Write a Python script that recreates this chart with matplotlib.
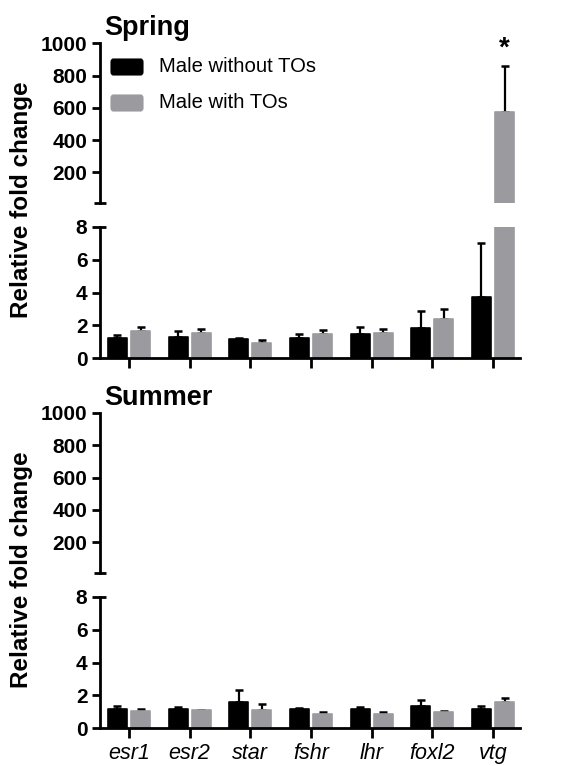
import matplotlib
matplotlib.use("Agg")
import matplotlib.pyplot as plt
from matplotlib.patches import FancyBboxPatch
import numpy as np

plt.rcParams['font.family'] = ['Liberation Sans', 'DejaVu Sans']

genes = ["esr1", "esr2", "star", "fshr", "lhr", "foxl2", "vtg"]
series_names = ["Male without TOs", "Male with TOs"]

spring_without = [1.2, 1.3, 1.14, 1.2, 1.46, 1.85, 3.74]
spring_without_err = [0.2, 0.35, 0.08, 0.25, 0.44, 1.02, 3.29]
spring_with = [1.66, 1.55, 0.93, 1.45, 1.5, 2.36, 572]
spring_with_err = [0.24, 0.2, 0.17, 0.25, 0.27, 0.64, 287]

summer_without = [1.18, 1.14, 1.59, 1.18, 1.15, 1.34, 1.18]
summer_without_err = [0.16, 0.14, 0.71, 0.05, 0.13, 0.36, 0.17]
summer_with = [1.04, 1.08, 1.08, 0.84, 0.84, 0.98, 1.59]
summer_with_err = [0.12, 0.03, 0.37, 0.16, 0.16, 0.07, 0.24]

upper_ticks = [200, 400, 600, 800, 1000]
lower_ticks = [0, 2, 4, 6, 8]

BLACK = "#000000"
GRAY = "#9b9b9f"
W, H = 581, 766
fig = plt.figure(figsize=(W / 100, H / 100), dpi=100)

def fx(px):
    return px / W

def fy(py):
    return 1 - py / H

left, right = 100, 520
x = np.arange(len(genes))
bw = 0.313
off = 0.19
LW = 2.0

def draw_bars(ax, a, ae, b, be, ymin):
    a = np.asarray(a, float)
    b = np.asarray(b, float)
    ae = np.asarray(ae, float)
    be = np.asarray(be, float)
    # only draw what reaches into this axis range
    a_m = np.where(a + ae > ymin, a, np.nan)
    b_m = np.where(b + be > ymin, b, np.nan)
    kw = dict(width=bw, linewidth=1.2, joinstyle='round', zorder=2)
    ax.bar(x - off, a_m, color=BLACK, edgecolor=BLACK, **kw)
    ax.bar(x + off, b_m, color=GRAY, edgecolor=GRAY, **kw)
    ek = dict(fmt='none', ecolor='black', elinewidth=1.6, capsize=3.2, capthick=1.8, zorder=1)
    ax.errorbar(x - off, a_m, yerr=[np.zeros(len(a)), ae], **ek)
    ax.errorbar(x + off, b_m, yerr=[np.zeros(len(b)), be], **ek)

def style(ax):
    for s in ['top', 'right']:
        ax.spines[s].set_visible(False)
    ax.spines['left'].set_linewidth(LW)
    ax.spines['bottom'].set_linewidth(LW)
    ax.tick_params(axis='y', direction='out', length=6, width=LW, labelsize=15, pad=3)
    for t in ax.get_yticklabels():
        t.set_fontweight('bold')
    ax.set_xlim(-0.478, 6.445)
    ax.patch.set_alpha(0)

def make_panel(top_1000, top_8, base0, title, title_base, a, ae, b, be, show_xlabels, label_center):
    # upper part
    scale = (172.3 - 43.3) / 800.0
    up_bottom = top_1000 + (1000 - 10) * scale
    axu = fig.add_axes([fx(left), fy(up_bottom), fx(right) - fx(left), fy(top_1000) - fy(up_bottom)])
    draw_bars(axu, a, ae, b, be, 10)
    axu.set_ylim(10, 1000)
    axu.set_yticks(upper_ticks)
    style(axu)
    axu.spines['bottom'].set_visible(False)
    axu.set_xticks([])
    # break mark at bottom of upper axis
    axu.plot([-0.015, 0.015], [10, 10], transform=axu.get_yaxis_transform(), color='black', lw=LW,
             clip_on=False, solid_capstyle='butt')
    # lower part
    axl = fig.add_axes([fx(left), fy(base0), fx(right) - fx(left), fy(top_8) - fy(base0)])
    draw_bars(axl, a, ae, b, be, -1)
    axl.set_ylim(0, 8)
    axl.set_yticks(lower_ticks)
    style(axl)
    axl.set_xticks(x)
    axl.tick_params(axis='x', direction='out', length=7, width=LW)
    if show_xlabels:
        axl.set_xticklabels(genes, fontstyle='italic', fontsize=15.5)
    else:
        axl.set_xticklabels([])
    # stub on the right of the top of the lower axis
    axl.plot([0, 0.014], [8, 8], transform=axl.get_yaxis_transform(), color='black', lw=LW,
             clip_on=False, solid_capstyle='butt')
    fig.text(fx(104), fy(title_base), title, fontsize=19.5, fontweight='bold', va='baseline', ha='left')
    fig.text(fx(22), fy(label_center), "Relative fold change", rotation=90, fontsize=17.5,
             fontweight='bold', ha='center', va='center')
    return axu, axl

axu1, axl1 = make_panel(43.3, 227, 358, "Spring", 35, spring_without, spring_without_err,
                        spring_with, spring_with_err, False, 200)
axu2, axl2 = make_panel(413, 597, 728, "Summer", 405, summer_without, summer_without_err,
                        summer_with, summer_with_err, True, 570)

# significance star
axu1.annotate("*", xy=(x[-1] + off, spring_with[-1] + spring_with_err[-1]), xytext=(0, 3),
              textcoords='offset points', ha='center', va='bottom', fontsize=20, fontweight='bold')

# legend
for i, (name, col) in enumerate(zip(series_names, [BLACK, GRAY])):
    y0 = 59 + i * 36
    p = FancyBboxPatch((fx(111), fy(y0 + 16)), fx(143) - fx(111), fy(y0) - fy(y0 + 16),
                       boxstyle="round,pad=0,rounding_size=0.004", transform=fig.transFigure,
                       facecolor=col, edgecolor=col, linewidth=0.8)
    fig.patches.append(p)
    fig.text(fx(159), fy(y0 + 8), name, fontsize=14.6, va='center', ha='left')

fig.savefig("out.png", dpi=100)
